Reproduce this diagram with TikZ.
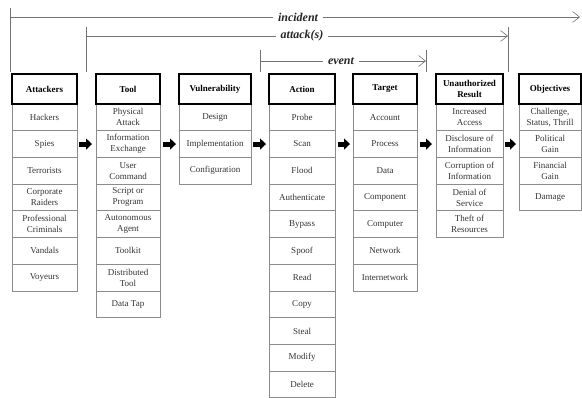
\documentclass[tikz,border=0pt]{standalone}
\usepackage{fontspec}
\setmainfont{Liberation Serif}
\usetikzlibrary{arrows.meta}
\begin{document}
\begin{tikzpicture}[x=1pt,y=-1pt,
  cell/.style={draw=black!45, line width=0.7pt, anchor=north west, inner sep=0pt, outer sep=0pt,
    minimum height=26.7pt, align=center, font=\fontsize{9}{11}\selectfont, text=black!80},
  head/.style={draw=black, line width=1.4pt, anchor=north west, inner sep=0pt, outer sep=0pt,
    minimum height=30pt, align=center, font=\fontsize{9}{11}\selectfont\bfseries},
  blockarrow/.style={draw=black, line width=5pt, -{Triangle[length=6pt,width=11pt]}},
  bracket/.style={draw=black!55, line width=0.6pt},
  barb/.style={bracket, -{Straight Barb[length=7pt,width=11pt,line width=0.6pt]}},
  lbl/.style={fill=white, inner xsep=5pt, inner ysep=2pt, font=\fontsize{12}{14}\selectfont\bfseries\itshape, text=black!85}
]
\useasboundingbox (0,0) rectangle (582,398);

% ---------- columns ----------
% Attackers
\foreach \t [count=\i] in {Hackers, Spies, Terrorists, {Corporate\\Raiders}, {Professional\\Criminals}, Vandals, Voyeurs}
  \node[cell, minimum width=65pt] (a\i) at (12, {104+(\i-1)*26.7}) {\t};
\node[head, minimum width=65pt] (ah) at (12,74) {Attackers};

% Tool
\foreach \t [count=\i] in {{Physical\\Attack}, {Information\\Exchange}, {User\\Command}, {Script or\\Program}, {Autonomous\\Agent}, Toolkit, {Distributed\\Tool}, Data Tap}
  \node[cell, minimum width=64pt] (t\i) at (96, {104+(\i-1)*26.7}) {\t};
\node[head, minimum width=64pt] (th) at (96,74) {Tool};

% Vulnerability
\foreach \t [count=\i] in {Design, Implementation, Configuration}
  \node[cell, minimum width=72pt] (v\i) at (179, {104+(\i-1)*26.7}) {\t};
\node[head, minimum width=72pt] (vh) at (179,74) {Vulnerability};

% Action
\foreach \t [count=\i] in {Probe, Scan, Flood, Authenticate, Bypass, Spoof, Read, Copy, Steal, Modify, Delete}
  \node[cell, minimum width=66pt] (c\i) at (269, {104+(\i-1)*26.7}) {\t};
\node[head, minimum width=66pt] (ch) at (269,74) {Action};

% Target
\foreach \t [count=\i] in {Account, Process, Data, Component, Computer, Network, Internetwork}
  \node[cell, minimum width=64pt] (g\i) at (353, {104+(\i-1)*26.7}) {\t};
\node[head, minimum width=64pt] (gh) at (353,74) {Target};

% Unauthorized Result
\foreach \t [count=\i] in {{Increased\\Access}, {Disclosure of\\Information}, {Corruption of\\Information}, {Denial of\\Service}, {Theft of\\Resources}}
  \node[cell, minimum width=67pt] (u\i) at (436, {104+(\i-1)*26.7}) {\t};
\node[head, minimum width=67pt] (uh) at (436,74) {Unauthorized\\Result};

% Objectives
\foreach \t [count=\i] in {{Challenge,\\Status, Thrill}, {Political\\Gain}, {Financial\\Gain}, Damage}
  \node[cell, minimum width=62pt] (o\i) at (519, {104+(\i-1)*26.7}) {\t};
\node[head, minimum width=62pt] (oh) at (519,74) {Objectives};

% ---------- block arrows ----------
\draw[blockarrow] ([xshift=2pt]a2.east) -- ([xshift=-4pt]t2.west);
\draw[blockarrow] ([xshift=3pt]t2.east) -- ([xshift=-3pt]v2.west);
\draw[blockarrow] ([xshift=2pt]v2.east) -- ([xshift=-3pt]c2.west);
\draw[blockarrow] ([xshift=3pt]c2.east) -- ([xshift=-3pt]g2.west);
\draw[blockarrow] ([xshift=3pt]g2.east) -- ([xshift=-4pt]u2.west);
\draw[blockarrow] ([xshift=2pt]u2.east) -- ([xshift=-3pt]o2.west);

% ---------- brackets ----------
% incident
\coordinate (iT) at (10,8);
\coordinate (iB) at (10,72);
\coordinate (iL) at (10,17);
\coordinate (iR) at (580,17);
\draw[bracket] (iT) -- (iB);
\draw[barb] (iL) -- (iR);
\node[lbl] (incident) at (298,17) {incident};

% attack(s)
\coordinate (aT) at (86,27);
\coordinate (aB) at (86,72);
\coordinate (aT2) at (508,27);
\coordinate (aB2) at (508,72);
\coordinate (aL) at (86,36);
\coordinate (aR) at (508,36);
\draw[bracket] (aT) -- (aB);
\draw[bracket] (aT2) -- (aB2);
\draw[barb] (aL) -- (aR);
\node[lbl] (attacks) at (302,36) {attack(s)};

% event
\coordinate (eT) at (260,50);
\coordinate (eB) at (260,72);
\coordinate (eT2) at (426,50);
\coordinate (eB2) at (426,72);
\coordinate (eL) at (260,61);
\coordinate (eR) at (426,61);
\draw[bracket] (eT) -- (eB);
\draw[bracket] (eT2) -- (eB2);
\draw[barb] (eL) -- (eR);
\node[lbl] (event) at (341,61) {event};
\end{tikzpicture}
\end{document}
